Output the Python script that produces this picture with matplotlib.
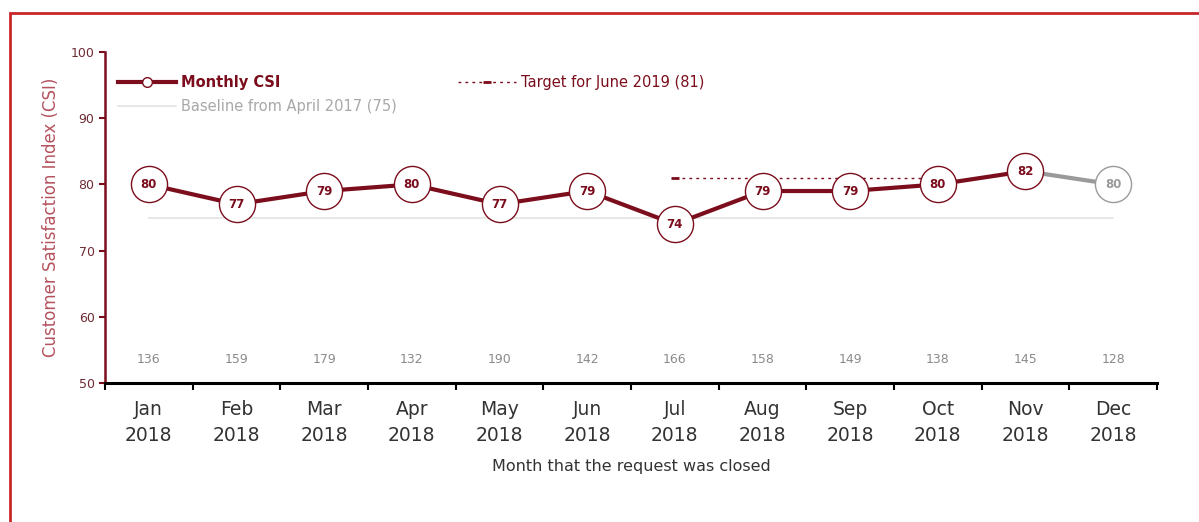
import numpy as np
import matplotlib.pyplot as plt
from matplotlib.lines import Line2D
from matplotlib.patches import Rectangle

months = ["Jan", "Feb", "Mar", "Apr", "May", "Jun", "Jul", "Aug", "Sep", "Oct", "Nov", "Dec"]
years = ["2018"] * 12
csi = [80, 77, 79, 80, 77, 79, 74, 79, 79, 80, 82, 80]
counts = [136, 159, 179, 132, 190, 142, 166, 158, 149, 138, 145, 128]
target = 81
target_months = ["Jul", "Aug", "Sep", "Oct"]
baseline = 75

MAROON = '#7b0d1c'
GREY = '#9a9a9a'

fig = plt.figure(figsize=(11.99, 5.22), dpi=100)
ax = fig.add_axes([105/1199, 1 - 383/522, 1052/1199, 331/522])

x = np.arange(len(months))

# baseline and target
ax.plot([x[0], x[-1]], [baseline, baseline], color='#e3e3e3', lw=1.2, zorder=1)
tx = [months.index(m) for m in target_months]
ax.plot(tx, [target] * len(tx), color=MAROON, lw=1, ls=(0, (2, 3)), zorder=1)
ax.plot(tx, [target] * len(tx), ls='none', marker='_', ms=6, mew=2, color=MAROON, zorder=1)

# monthly CSI: confirmed months in maroon, last month grey
ax.plot(x[:-1], csi[:-1], color=MAROON, lw=3, zorder=2)
ax.plot(x[-2:], csi[-2:], color=GREY, lw=3, zorder=2)
ax.plot(x[:-1], csi[:-1], ls='none', marker='o', ms=26, mfc='white', mec=MAROON, mew=1, zorder=3)
ax.plot(x[-1:], csi[-1:], ls='none', marker='o', ms=26, mfc='white', mec=GREY, mew=1, zorder=3)
for i, v in enumerate(csi):
    c = MAROON if i < len(csi) - 1 else GREY
    ax.text(x[i], v, str(v), ha='center', va='center', fontsize=8.5, fontweight='bold', color=c, zorder=4)

# number of requests per month
for i, n in enumerate(counts):
    ax.text(x[i], 53.5, str(n), ha='center', va='center', fontsize=9, color='#8a8a8a')

ax.set_xlim(-0.5, len(months) - 0.5)
ax.set_ylim(50, 100)
ax.set_yticks([50, 60, 70, 80, 90, 100])
ax.set_xticks(np.arange(-0.5, len(months), 1))
ax.set_xticklabels([])
ax.set_xticks(x, minor=True)
ax.set_xticklabels([m + "\n" + y for m, y in zip(months, years)], minor=True, fontsize=13.5, color='#333333', linespacing=1.5)
ax.tick_params(axis='x', which='minor', length=0, pad=12)
ax.tick_params(axis='x', which='major', length=5, width=1.5, color='black')
ax.tick_params(axis='y', length=4, width=1.5, color=MAROON, labelsize=9, labelcolor='#6e2a33')

for s in ['top', 'right']:
    ax.spines[s].set_visible(False)
ax.spines['left'].set_color(MAROON)
ax.spines['left'].set_linewidth(1.8)
ax.spines['bottom'].set_color('black')
ax.spines['bottom'].set_linewidth(2.2)

ax.set_ylabel("Customer Satisfaction Index (CSI)", color='#b5525e', fontsize=12, labelpad=8)
ax.set_xlabel("Month that the request was closed", color='#333333', fontsize=11.5, labelpad=10)

# legend: column 1 = CSI, baseline; column 2 = target
handles = [
    Line2D([], [], color=MAROON, lw=3, marker='o', ms=7, mfc='white', mec=MAROON, mew=1),
    Line2D([], [], color='#e3e3e3', lw=1.2),
    Line2D([], [], color=MAROON, lw=1, ls=(0, (2, 3)), marker='_', ms=6, mew=2),
]
leg = ax.legend(handles, ["Monthly CSI", "Baseline from April 2017 (75)", "Target for June 2019 (81)"],
                loc='upper left', bbox_to_anchor=(0.0, 0.97), ncol=2, frameon=False, fontsize=10.5,
                handlelength=4, columnspacing=4.2, handletextpad=0.3, labelspacing=0.6)
texts = leg.get_texts()
texts[0].set_color(MAROON)
texts[0].set_fontweight('bold')
texts[1].set_color('#a8a8a8')
texts[2].set_color(MAROON)

fig.patches.append(Rectangle((10/1199, -0.1), 1.2, 1 - 13/522 + 0.1, transform=fig.transFigure,
                             fill=False, ec='#c8262a', lw=2))

fig.savefig("out.png", dpi=100)
